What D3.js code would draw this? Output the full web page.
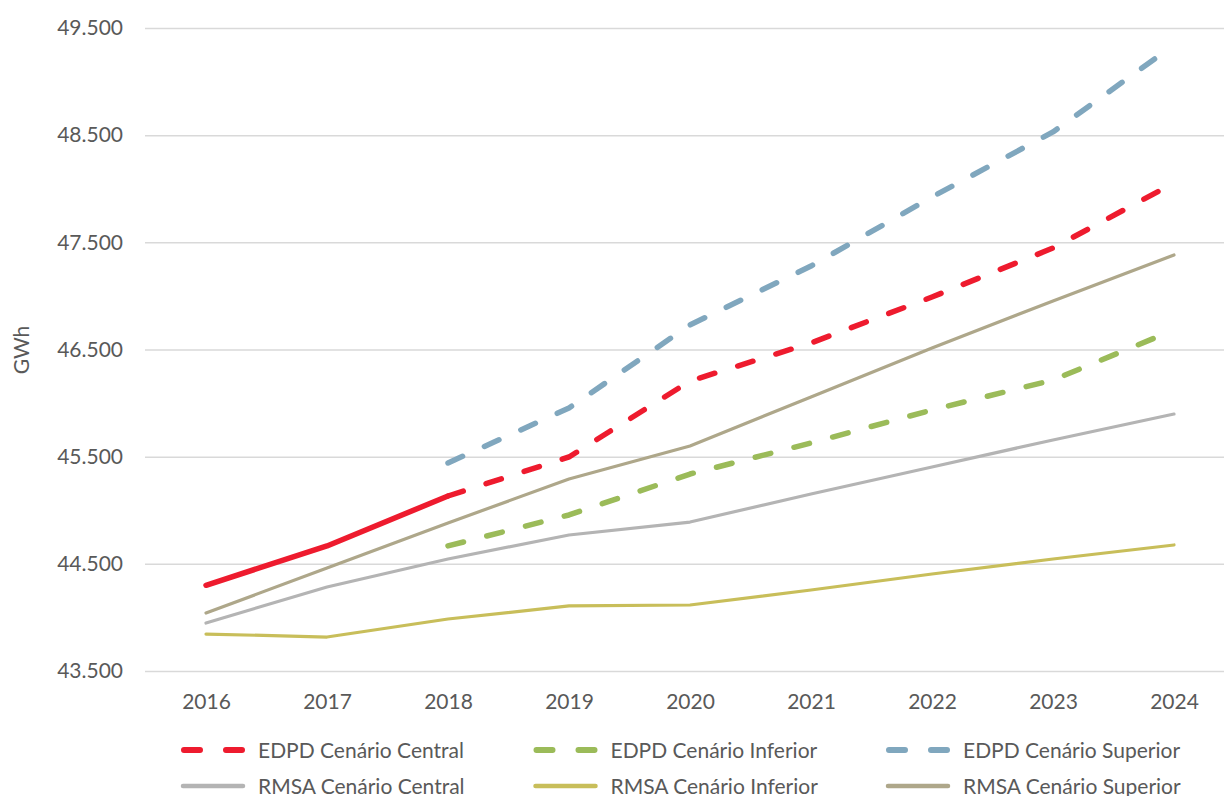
<!DOCTYPE html>
<html>
<head>
<meta charset="utf-8">
<script src="https://cdn.jsdelivr.net/npm/d3@7"></script>
<style>
  body { margin: 0; background: #fff; }
  text { font-family: Lato, "Noto Sans", sans-serif; fill: #595959; }
</style>
</head>
<body>
<div id="chart"></div>
<script>
// categories and values (GWh)
const years = ['2016', '2017', '2018', '2019', '2020', '2021', '2022', '2023', '2024'];
const yTicks = [43500, 44500, 45500, 46500, 47500, 48500, 49500];

const edpdCentral  = [44300, 44667, 45133, 45497, 46206, 46561, 46990, 47447, 48054];
const edpdInferior = [null, null, 44667, 44956, 45338, 45628, 45936, 46215, 46682];
const edpdSuperior = [null, null, 45441, 45954, 46729, 47279, 47923, 48530, 49341];
const rmsaCentral  = [43948, 44284, 44545, 44769, 44890, 45152, 45404, 45656, 45898];
const rmsaInferior = [43845, 43817, 43985, 44107, 44116, 44256, 44405, 44545, 44676];
const rmsaSuperior = [44041, 44461, 44881, 45292, 45600, 46057, 46514, 46953, 47382];

const width = 1224, height = 796;
const fontSize = 21;

const svg = d3.select('#chart')
    .append('svg')
    .attr('width', width)
    .attr('height', height);

const x = d3.scalePoint()
    .domain(years)
    .range([145.5, 1234.5])
    .padding(0.5);

const y = d3.scaleLinear()
    .domain([43500, 49500])
    .range([671, 28]);

const fmt = d3.formatLocale({ decimal: ',', thousands: '.', grouping: [3], currency: ['', '€'] }).format(',.0f');

// gridlines + y labels
const yAxis = svg.append('g')
    .attr('transform', 'translate(145,0)')
    .call(d3.axisLeft(y).tickValues(yTicks).tickSize(-1090).tickPadding(22).tickFormat(fmt));
yAxis.select('.domain').remove();
yAxis.selectAll('line').attr('stroke', '#d9d9d9').attr('stroke-width', 1.5);
yAxis.selectAll('text').attr('font-size', fontSize).style('fill', '#595959');

// x labels
const xAxis = svg.append('g')
    .attr('transform', 'translate(0,671)')
    .call(d3.axisBottom(x).tickSize(0).tickPadding(23));
xAxis.select('.domain').remove();
xAxis.selectAll('text').attr('font-size', fontSize).style('fill', '#595959');

// axis title
svg.append('text')
    .attr('transform', 'translate(29,350) rotate(-90)')
    .attr('text-anchor', 'middle')
    .attr('font-size', fontSize)
    .text('GWh');

const line = d3.line()
    .defined(d => d.v !== null)
    .x(d => x(d.year))
    .y(d => y(d.v));

const toPts = arr => arr.map((v, i) => ({ year: years[i], v: v }));

const series = [
    { name: 'RMSA Cenário Central',  data: rmsaCentral,  color: '#b4b4b4', width: 3.2, dash: null },
    { name: 'RMSA Cenário Inferior', data: rmsaInferior, color: '#c8be5a', width: 3.2, dash: null },
    { name: 'RMSA Cenário Superior', data: rmsaSuperior, color: '#aea78a', width: 3.2, dash: null },
    { name: 'EDPD Cenário Inferior', data: edpdInferior, color: '#9bbb59', width: 5.5, dash: '16,24' },
    { name: 'EDPD Cenário Superior', data: edpdSuperior, color: '#80a7be', width: 5.5, dash: '16,24' },
];

const lines = svg.append('g');

series.forEach(s => {
    lines.append('path')
        .datum(toPts(s.data))
        .attr('d', line)
        .attr('fill', 'none')
        .attr('stroke', s.color)
        .attr('stroke-width', s.width)
        .attr('stroke-linecap', 'round')
        .attr('stroke-linejoin', 'round')
        .attr('stroke-dasharray', s.dash);
});

// EDPD central: real values up to 2018, forecast dashed afterwards
const central = toPts(edpdCentral);
lines.append('path')
    .datum(central.slice(0, 3))
    .attr('d', line)
    .attr('fill', 'none')
    .attr('stroke', '#ee1b2e')
    .attr('stroke-width', 5.5)
    .attr('stroke-linecap', 'round')
    .attr('stroke-linejoin', 'round');
lines.append('path')
    .datum(central.slice(2))
    .attr('d', line)
    .attr('fill', 'none')
    .attr('stroke', '#ee1b2e')
    .attr('stroke-width', 5.5)
    .attr('stroke-linecap', 'round')
    .attr('stroke-dasharray', '16,24');

// legend
const legendItems = [
    { name: 'EDPD Cenário Central',  color: '#ee1b2e', dash: true },
    { name: 'EDPD Cenário Inferior', color: '#9bbb59', dash: true },
    { name: 'EDPD Cenário Superior', color: '#80a7be', dash: true },
    { name: 'RMSA Cenário Central',  color: '#b4b4b4', dash: false },
    { name: 'RMSA Cenário Inferior', color: '#c8be5a', dash: false },
    { name: 'RMSA Cenário Superior', color: '#aea78a', dash: false },
];

const legend = svg.append('g');
legendItems.forEach((d, i) => {
    const gx = 181 + (i % 3) * 352.5;
    const gy = i < 3 ? 750 : 786;
    const g = legend.append('g').attr('transform', `translate(${gx},${gy})`);
    if (d.dash) {
        g.append('path')
            .attr('d', 'M3,0H61')
            .attr('stroke', d.color)
            .attr('stroke-width', 6)
            .attr('stroke-linecap', 'round')
            .attr('stroke-dasharray', '16,26');
    } else {
        g.append('path')
            .attr('d', 'M2,0H62')
            .attr('stroke', d.color)
            .attr('stroke-width', 4.5)
            .attr('stroke-linecap', 'round');
    }
    g.append('text')
        .attr('x', 77)
        .attr('y', 7.5)
        .attr('font-size', fontSize)
        .text(d.name);
});
</script>
</body>
</html>
